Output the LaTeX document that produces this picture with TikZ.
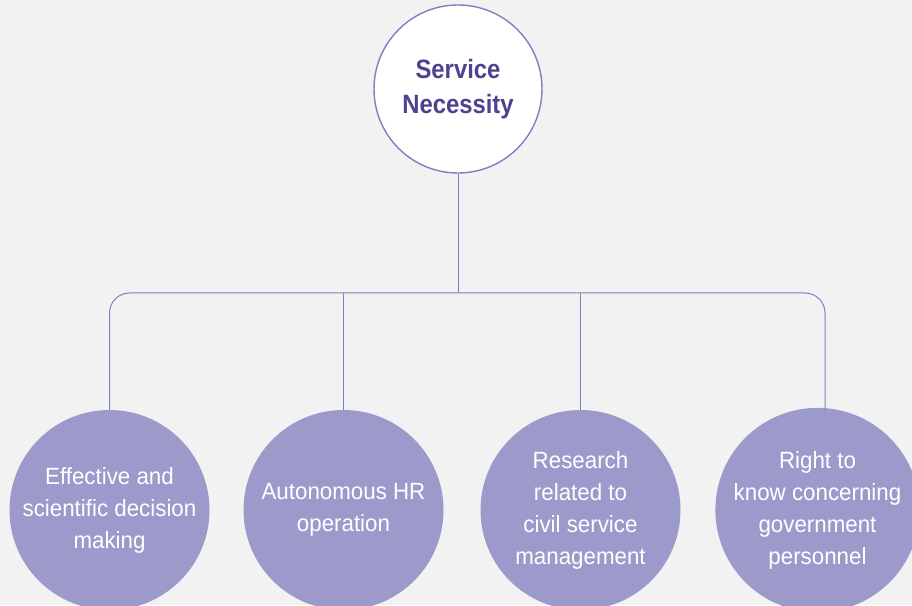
\documentclass[tikz,border=0pt]{standalone}
\usepackage{fontspec}
\setmainfont{Liberation Sans}
\newfontfamily\leaffont{Liberation Sans}[FakeStretch=0.95]
\newfontfamily\topfont{Liberation Sans}[FakeStretch=0.9]
\definecolor{bgcol}{HTML}{F2F2F2}
\definecolor{linecol}{HTML}{7F7FC2}
\definecolor{topcol}{HTML}{4B4390}
\definecolor{leafcol}{HTML}{9C9ACB}
\tikzset{my top/.style={circle, draw=linecol, line width=1.4pt, fill=white, minimum size=   168.000000pt, inner sep=0pt, align=center, text=topcol, font=\topfont\fontsize{26.5}{35}\selectfont\bfseries},
my leaf/.style={circle, fill=leafcol, minimum size=   200.000000pt, inner sep=0pt, align=center, text=white, font=\leaffont\fontsize{23.5}{32}\selectfont},
my link/.style={draw=linecol, line width=1pt},}

\begin{document}
\begin{tikzpicture}[x=1pt,y=1pt]
\fill [bgcol] (  0.000000,  0.000000) rectangle (912.000000,605.000000);
\useasboundingbox (  0.000000,  0.000000) rectangle (912.000000,605.000000);
\clip (  0.000000,  0.000000) rectangle (912.000000,605.000000);
\node [my top] (top) at (458.000000,516.000000) {Service\\Necessity};
\node [my leaf] (leafA) at (109.500000, 95.000000) {Effective and\\scientific decision\\making};
\node [my leaf] (leafB) at (343.500000, 95.000000) {Autonomous HR\\operation};
\node [my leaf] (leafC) at (580.500000, 95.000000) {Research\\related to\\civil service\\management};
\node [my leaf] (leafD) at (817.500000, 95.000000) {Right to\\know concerning\\government\\personnel};
\coordinate (bus) at (458.000000,312.000000);
\coordinate (endD) at (825.000000,194.500000);
\draw [my link] (top.south) -- (bus);
\draw [my link, rounded corners=20pt] (leafA.north) |- (bus) -| (endD);
\draw [my link] (leafB.north) -- (leafB.north |- bus);
\draw [my link] (leafC.north) -- (leafC.north |- bus);
\end{tikzpicture}
\end{document}
